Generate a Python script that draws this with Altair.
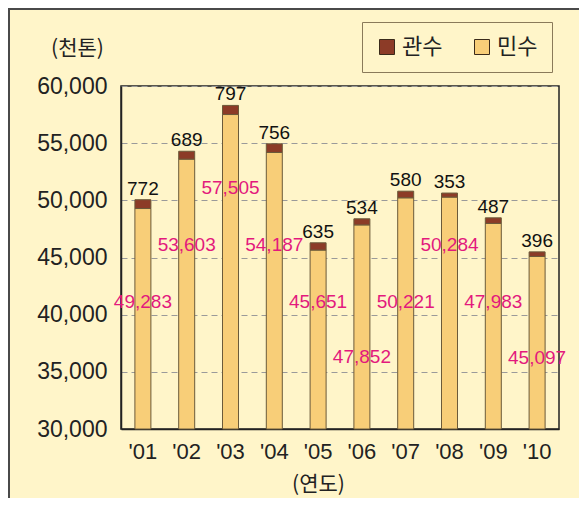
import altair as alt
import pandas as pd

# ---- data ----
years = ["'01", "'02", "'03", "'04", "'05", "'06", "'07", "'08", "'09", "'10"]
gwansu = [772, 689, 797, 756, 635, 534, 580, 353, 487, 396]          # 관수
minsu = [49283, 53603, 57505, 54187, 45651, 47852, 50221, 50284, 47983, 45097]  # 민수
series = ["관수", "민수"]
y_ticks = [30000, 35000, 40000, 45000, 50000, 55000, 60000]

# ---- styling ----
BG = "#FFF5C9"
DARK = "#8C3B27"
LIGHT = "#F8CE78"
PINK = "#E3197D"
KR = "Noto Sans CJK KR"
NUM = "Liberation Sans"
# where the hand-placed 민수 labels sit (data units of the y scale)
pink_anchor = {"'01": 41100, "'02": 46100, "'03": 51080, "'04": 46100, "'05": 41100,
               "'06": 36300, "'07": 41100, "'08": 46100, "'09": 41100, "'10": 36200}

rows = []
for yr, g, m in zip(years, gwansu, minsu):
    rows.append({"year": yr, "type": "민수", "value": m, "ord": 0})
    rows.append({"year": yr, "type": "관수", "value": g, "ord": 1})
long_df = pd.DataFrame(rows)

lab_df = pd.DataFrame({
    "year": years,
    "gwansu": gwansu,
    "minsu": minsu,
    "total": [g + m for g, m in zip(gwansu, minsu)],
    "anchor": [pink_anchor[y] for y in years],
})
lab_df["minsu_txt"] = lab_df["minsu"].map(lambda v: f"{v:,}")

x_enc = alt.X("year:N", sort=years,
              scale=alt.Scale(paddingInner=0, paddingOuter=0),
              axis=alt.Axis(title="(연도)", labelAngle=0, ticks=False,
                            labelFont=NUM, labelFontSize=22, labelColor="#222",
                            labelPadding=12, domainColor="#222", domainWidth=1.5,
                            titleFont=KR, titleFontSize=21, titleFontWeight="normal",
                            titleColor="#222", titleX=197, titleY=55,
                            titleBaseline="middle", titleAlign="center", grid=False))

y_scale = alt.Scale(domain=[30000, 60000], clamp=True, nice=False, zero=False)

bars = alt.Chart(long_df).mark_bar(size=16, stroke="#6B5A3A", strokeWidth=1).encode(
    x=x_enc,
    y=alt.Y("value:Q", stack="zero", scale=y_scale,
            axis=alt.Axis(values=y_ticks, format=",.0f", ticks=False,
                          labelFont=NUM, labelFontSize=23, labelColor="#222",
                          labelPadding=14, domainColor="#222", domainWidth=1.5,
                          grid=True, gridDash=[6, 4], gridColor="#9A9A9A", gridWidth=1,
                          title="(천톤)", titleAngle=0, titleX=-44, titleY=-38,
                          titleFont=KR, titleFontSize=21, titleFontWeight="normal",
                          titleColor="#222", titleAlign="center", titleBaseline="middle")),
    color=alt.Color("type:N",
                    scale=alt.Scale(domain=series, range=[DARK, LIGHT]),
                    legend=alt.Legend(title=None, orient="none", legendX=241, legendY=-64,
                                      direction="horizontal", symbolType="square",
                                      symbolSize=225, symbolStrokeColor="#3A2A1A",
                                      symbolStrokeWidth=1, labelFont=KR, labelFontSize=22,
                                      labelColor="#222", labelOffset=4, columnPadding=28,
                                      padding=14, strokeColor="#8A7A5A", fillColor=BG)),
    order=alt.Order("ord:Q"),
)

top_labels = alt.Chart(lab_df).mark_text(
    font=NUM, fontSize=19, color="#111", baseline="alphabetic", dy=-5
).encode(
    x=alt.X("year:N", sort=years),
    y=alt.Y("total:Q", scale=y_scale),
    text=alt.Text("gwansu:Q"),
)

pink_labels = alt.Chart(lab_df).mark_text(
    font=NUM, fontSize=19, color=PINK, baseline="middle"
).encode(
    x=alt.X("year:N", sort=years),
    y=alt.Y("anchor:Q", scale=y_scale),
    text=alt.Text("minsu_txt:N"),
)

frame = alt.Chart(pd.DataFrame({"k": [0]})).mark_rect(
    filled=False, stroke="#4A4A4A", strokeWidth=2
).encode(
    x=alt.value(-112), x2=alt.value(700),
    y=alt.value(-77), y2=alt.value(700),
)

chart = alt.layer(bars, top_labels, pink_labels, frame).properties(
    width=438, height=343,
    autosize=alt.AutoSizeParams(type="none"),
    padding={"left": 113, "top": 78, "right": 20, "bottom": 69},
    background=BG,
).configure_view(
    fill=BG, stroke="#222", strokeWidth=1.5
)

chart.save("out.html", embed_options={"renderer": "svg", "actions": False})
